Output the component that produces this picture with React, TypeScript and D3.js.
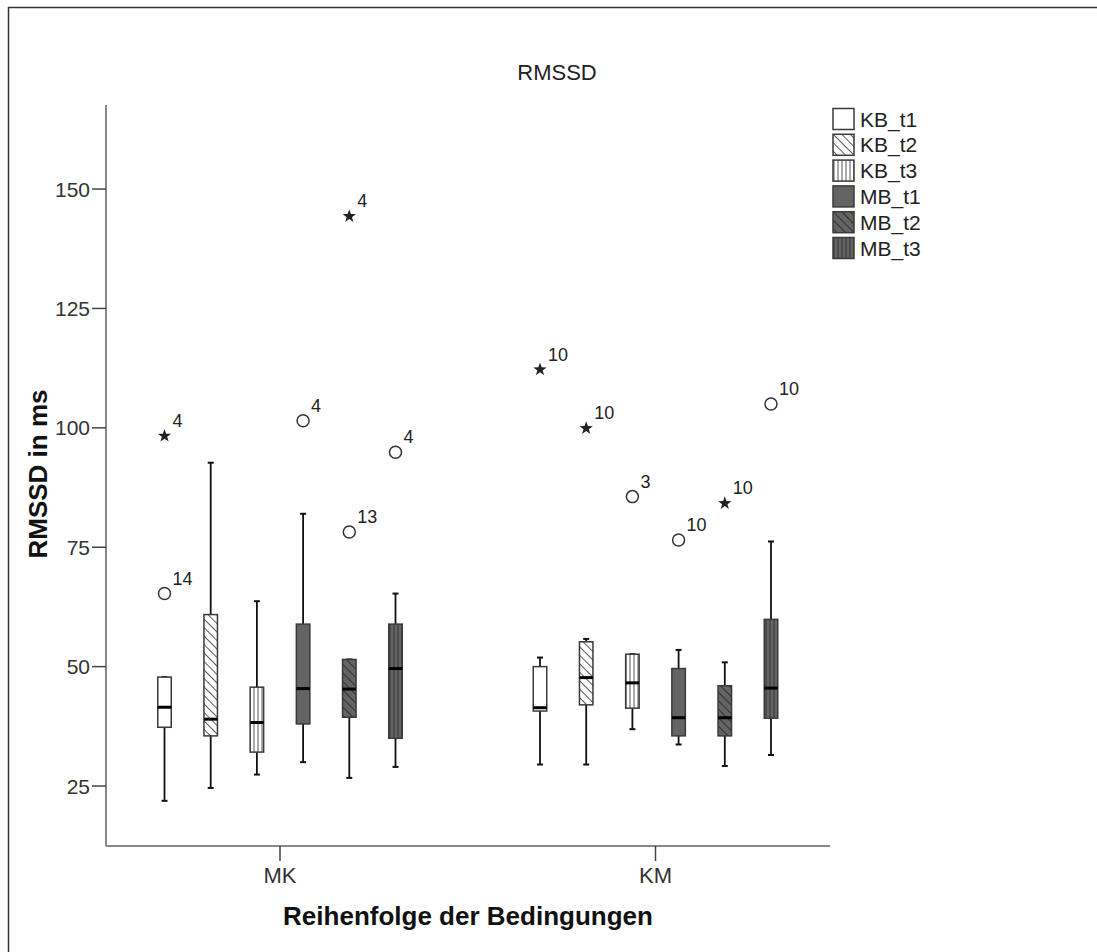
import React from "react";
import * as d3 from "d3";

// Groups on the x axis and the six measurement series inside each group
const groups = ["MK", "KM"];
const series = ["KB_t1", "KB_t2", "KB_t3", "MB_t1", "MB_t2", "MB_t3"];
const yTicks = [25, 50, 75, 100, 125, 150];

// Box statistics per series (order follows `series`)
const mkWhiskerLow = [21.9, 24.6, 27.4, 30.0, 26.7, 29.0];
const mkQ1 = [37.3, 35.5, 32.1, 38.0, 39.4, 35.0];
const mkMedian = [41.5, 39.0, 38.3, 45.4, 45.3, 49.6];
const mkQ3 = [47.8, 60.9, 45.7, 58.9, 51.5, 58.9];
const mkWhiskerHigh = [47.8, 92.7, 63.7, 82.0, 51.5, 65.3];

const kmWhiskerLow = [29.5, 29.5, 36.9, 33.7, 29.2, 31.5];
const kmQ1 = [40.7, 42.0, 41.3, 35.5, 35.5, 39.2];
const kmMedian = [41.4, 47.7, 46.6, 39.3, 39.3, 45.5];
const kmQ3 = [50.0, 55.2, 52.6, 49.6, 46.0, 59.9];
const kmWhiskerHigh = [51.9, 55.8, 52.6, 53.5, 50.9, 76.2];

// Outliers: circle = mild, star = extreme; label is the case number
const outlierGroup = ["MK", "MK", "MK", "MK", "MK", "MK", "KM", "KM", "KM", "KM", "KM", "KM"];
const outlierSeries = ["KB_t1", "KB_t1", "MB_t1", "MB_t2", "MB_t2", "MB_t3", "KB_t1", "KB_t2", "KB_t3", "MB_t1", "MB_t2", "MB_t3"];
const outlierValue = [65.3, 98.3, 101.5, 78.2, 144.3, 94.9, 112.2, 99.9, 85.6, 76.5, 84.2, 105.0];
const outlierKind = ["circle", "star", "circle", "circle", "star", "circle", "star", "star", "circle", "circle", "star", "circle"];
const outlierCase = ["14", "4", "4", "13", "4", "4", "10", "10", "3", "10", "10", "10"];

const FONT = "Arial, 'Liberation Sans', Helvetica, sans-serif";
const W = 1097;
const H = 952;
const left = 106;
const right = 830;
const top = 105;
const bottom = 846;

const MB_FILL = "#646464";
const STROKE = "#3a3a3a";

const boxStats = groups.map((g) =>
  g === "MK"
    ? { low: mkWhiskerLow, q1: mkQ1, med: mkMedian, q3: mkQ3, high: mkWhiskerHigh }
    : { low: kmWhiskerLow, q1: kmQ1, med: kmMedian, q3: kmQ3, high: kmWhiskerHigh }
);

const fillFor = (s: string) => {
  switch (s) {
    case "KB_t1":
      return "#ffffff";
    case "KB_t2":
      return "url(#hatchKB2)";
    case "KB_t3":
      return "url(#hatchKB3)";
    case "MB_t1":
      return MB_FILL;
    case "MB_t2":
      return "url(#hatchMB2)";
    default:
      return "url(#hatchMB3)";
  }
};

function starPath(cx: number, cy: number, r: number) {
  const pts: string[] = [];
  for (let i = 0; i < 10; i++) {
    const rr = i % 2 === 0 ? r : r * 0.4;
    const a = -Math.PI / 2 + (i * Math.PI) / 5;
    pts.push(`${(cx + rr * Math.cos(a)).toFixed(2)},${(cy + rr * Math.sin(a)).toFixed(2)}`);
  }
  return "M" + pts.join("L") + "Z";
}

export default function App() {
  const y = d3.scaleLinear().domain([12.44, 167.6]).range([bottom, top]);
  const xGroup = d3.scalePoint<string>().domain(groups).range([280, 655.5]);
  const xSeries = d3.scalePoint<string>().domain(series).range([-115.5, 115.5]);
  const boxW = 13.5;
  const capW = 6;

  return (
    <svg width={W} height={H} style={{ display: "block", position: "absolute", left: 0, top: 0 }} fontFamily={FONT}>
      <defs>
        <pattern id="hatchKB2" patternUnits="userSpaceOnUse" width="6" height="6" patternTransform="rotate(-45)">
          <rect width="6" height="6" fill="#fff" />
          <line x1="0" y1="0" x2="0" y2="6" stroke="#333" strokeWidth="1.6" />
        </pattern>
        <pattern id="hatchMB2" patternUnits="userSpaceOnUse" width="6" height="6" patternTransform="rotate(-45)">
          <rect width="6" height="6" fill={MB_FILL} />
          <line x1="0" y1="0" x2="0" y2="6" stroke="#222" strokeWidth="1.6" />
        </pattern>
        <pattern id="hatchKB3" patternUnits="userSpaceOnUse" width="4" height="4">
          <rect width="4" height="4" fill="#fff" />
          <line x1="2" y1="0" x2="2" y2="4" stroke="#555" strokeWidth="1" />
        </pattern>
        <pattern id="hatchMB3" patternUnits="userSpaceOnUse" width="4" height="4">
          <rect width="4" height="4" fill={MB_FILL} />
          <line x1="2" y1="0" x2="2" y2="4" stroke="#333" strokeWidth="1" />
        </pattern>
      </defs>

      <rect x={0} y={0} width={W} height={H} fill="#fff" />
      {/* outer frame */}
      <rect x={8.5} y={7.5} width={W + 20} height={H + 20} fill="none" stroke="#333" strokeWidth={1.5} />

      <text x={557} y={80} textAnchor="middle" fontSize={22} fill="#222">
        RMSSD
      </text>

      {/* axes */}
      <line x1={left} x2={left} y1={top} y2={bottom} stroke="#888" strokeWidth={2} />
      <line x1={left} x2={right} y1={bottom} y2={bottom} stroke="#888" strokeWidth={2} />
      {yTicks.map((t) => (
        <g key={t}>
          <line x1={left - 14} x2={left} y1={y(t)} y2={y(t)} stroke="#444" strokeWidth={1.5} />
          <text x={90} y={y(t)} dy="0.36em" textAnchor="end" fontSize={21} fill="#333">
            {t}
          </text>
        </g>
      ))}
      {groups.map((g) => (
        <g key={g}>
          <line x1={xGroup(g)} x2={xGroup(g)} y1={bottom} y2={bottom + 15} stroke="#444" strokeWidth={1.5} />
          <text x={xGroup(g)} y={bottom + 37} textAnchor="middle" fontSize={22} fill="#333">
            {g}
          </text>
        </g>
      ))}

      <text x={468} y={bottom + 79} textAnchor="middle" fontSize={26} fontWeight="bold" fill="#111">
        Reihenfolge der Bedingungen
      </text>
      <text
        transform={`translate(47, 474) rotate(-90)`}
        textAnchor="middle"
        fontSize={26}
        fontWeight="bold"
        fill="#111"
      >
        RMSSD in ms
      </text>

      {/* boxes */}
      {groups.map((g, gi) =>
        series.map((s, si) => {
          const st = boxStats[gi];
          const cx = (xGroup(g) as number) + (xSeries(s) as number);
          return (
            <g key={g + s}>
              <line x1={cx} x2={cx} y1={y(st.high[si])} y2={y(st.q3[si])} stroke="#111" strokeWidth={1.8} />
              <line x1={cx} x2={cx} y1={y(st.q1[si])} y2={y(st.low[si])} stroke="#111" strokeWidth={1.8} />
              <line x1={cx - capW / 2} x2={cx + capW / 2} y1={y(st.high[si])} y2={y(st.high[si])} stroke="#111" strokeWidth={2} />
              <line x1={cx - capW / 2} x2={cx + capW / 2} y1={y(st.low[si])} y2={y(st.low[si])} stroke="#111" strokeWidth={2} />
              <rect
                x={cx - boxW / 2}
                y={y(st.q3[si])}
                width={boxW}
                height={y(st.q1[si]) - y(st.q3[si])}
                fill={fillFor(s)}
                stroke={STROKE}
                strokeWidth={1.5}
              />
              <line x1={cx - boxW / 2} x2={cx + boxW / 2} y1={y(st.med[si])} y2={y(st.med[si])} stroke="#000" strokeWidth={3} />
            </g>
          );
        })
      )}

      {/* outliers */}
      {outlierValue.map((v, i) => {
        const cx = (xGroup(outlierGroup[i]) as number) + (xSeries(outlierSeries[i]) as number);
        const cy = y(v);
        return (
          <g key={i}>
            {outlierKind[i] === "circle" ? (
              <circle cx={cx} cy={cy} r={6} fill="none" stroke="#333" strokeWidth={1.5} />
            ) : (
              <path d={starPath(cx, cy, 7)} fill="#222" />
            )}
            <text x={cx + 8} y={cy - 9} fontSize={18} fill="#222">
              {outlierCase[i]}
            </text>
          </g>
        );
      })}

      {/* legend */}
      {series.map((s, i) => (
        <g key={s} transform={`translate(832, ${108 + i * 25.8})`}>
          <rect x={1} y={0.5} width={21} height={21} fill={fillFor(s)} stroke={STROKE} strokeWidth={1.5} />
          <text x={28} y={11} dy="0.36em" fontSize={21} fill="#222">
            {s}
          </text>
        </g>
      ))}
    </svg>
  );
}
